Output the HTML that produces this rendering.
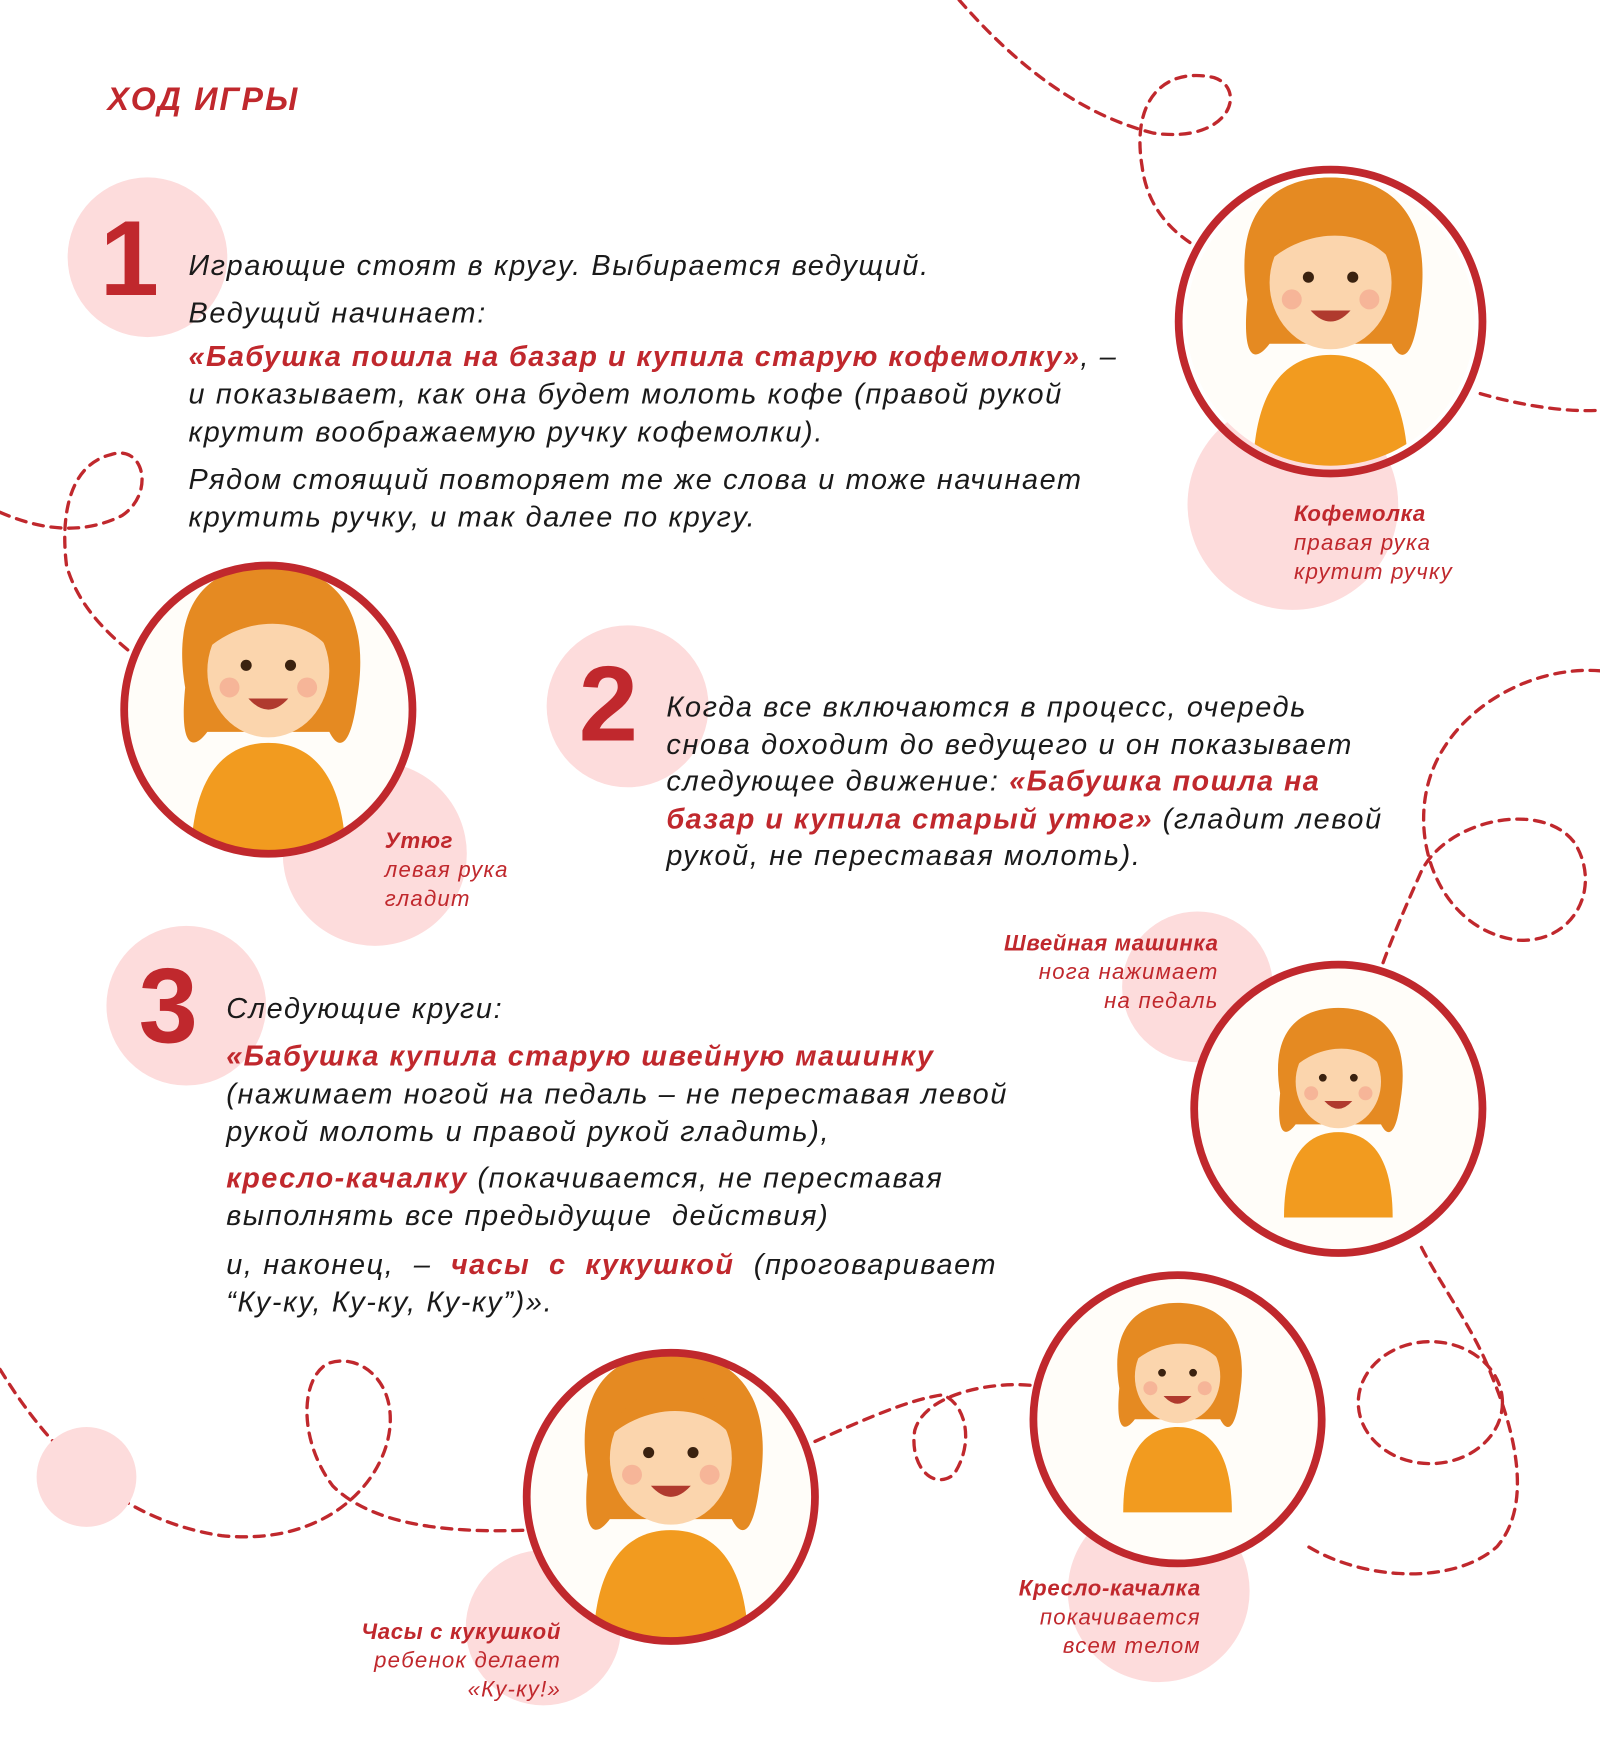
<!DOCTYPE html>
<html><head><meta charset="utf-8"><style>
html,body{margin:0;padding:0;background:#fff;}
body{width:1600px;height:1739px;overflow:hidden;position:relative;}
#w{position:absolute;left:0;top:0;width:1443px;height:1568px;transform:scale(1.10881);transform-origin:0 0;font-family:"Liberation Sans",sans-serif;}
.a{position:absolute;}
.pk{position:absolute;border-radius:50%;background:#fddcdc;}
.num{position:absolute;font-weight:bold;color:#c0282d;font-size:96px;line-height:1;}
.t{position:absolute;font-style:italic;font-size:26px;color:#1a1a1a;white-space:nowrap;letter-spacing:1.5px;}
.r{color:#c0282d;font-weight:bold;letter-spacing:1.3px;}
.cap{position:absolute;font-style:italic;font-size:20px;color:#c0282d;line-height:26px;white-space:nowrap;letter-spacing:1.1px;}
.cap b{font-weight:bold;letter-spacing:0.6px;}
.ri{text-align:right;}
</style></head><body><div id="w">
<svg class="a" style="left:0;top:0" width="1443" height="1568" viewBox="0 0 1443 1568">
<g fill="none" stroke="#c0282d" stroke-width="3" stroke-dasharray="9 7" stroke-linecap="round">
<path d="M865,0 C900,40 960,100 1040,120 C1110,130 1125,80 1095,70 C1050,60 1020,90 1030,150 C1035,190 1060,210 1075,220"/>
<path d="M1335,355 C1370,365 1410,372 1443,370"/>
<path d="M0,462 C30,475 70,485 110,465 C140,445 130,400 100,410 C60,420 55,470 60,510 C70,545 95,570 120,590"/>
<path d="M1443,605 C1380,600 1310,640 1290,700 C1270,760 1300,840 1370,848 C1420,850 1445,800 1420,760 C1390,720 1300,740 1280,790 C1262,830 1250,860 1245,875"/>
<path d="M1282,1125 C1300,1160 1330,1200 1345,1240 C1370,1300 1380,1360 1350,1395 C1310,1430 1230,1425 1180,1395"/>
<ellipse cx="1290" cy="1265" rx="65" ry="55"/>
<path d="M735,1300 C780,1280 820,1262 850,1258 C870,1265 880,1300 860,1330 C840,1345 820,1320 825,1290 C835,1255 900,1245 935,1250"/>
<path d="M0,1235 C40,1300 100,1370 200,1385 C300,1395 352,1330 352,1280 C352,1240 320,1220 295,1230 C270,1245 270,1300 300,1340 C340,1380 420,1382 475,1380"/>
</g>
</svg>
<div class="a" style="left:97px;top:74px;font-size:29px;font-weight:bold;font-style:italic;color:#c0282d;letter-spacing:2px;">ХОД ИГРЫ</div>

<div class="pk" style="left:61px;top:160px;width:144px;height:144px"></div>
<div class="pk" style="left:1071px;top:360px;width:190px;height:190px"></div>
<div class="pk" style="left:255px;top:687px;width:166px;height:166px"></div>
<div class="pk" style="left:493px;top:564px;width:146px;height:146px"></div>
<div class="pk" style="left:96px;top:835px;width:144px;height:144px"></div>
<div class="pk" style="left:1012px;top:822px;width:136px;height:136px"></div>
<div class="pk" style="left:963px;top:1353px;width:164px;height:164px"></div>
<div class="pk" style="left:420px;top:1398px;width:140px;height:140px"></div>
<div class="pk" style="left:33px;top:1287px;width:90px;height:90px"></div>

<div class="num" style="left:90px;top:186px">1</div>
<div class="t" style="left:170px;top:218px;line-height:43px">Играющие стоят в кругу. Выбирается ведущий.<br>Ведущий начинает:</div>
<div class="t" style="left:170px;top:304px;line-height:34px"><span class="r">«Бабушка пошла на базар и купила старую кофемолку»</span>, –<br>и показывает, как она будет молоть кофе (правой рукой<br>крутит воображаемую ручку кофемолки).</div>
<div class="t" style="left:170px;top:415px;line-height:34px">Рядом стоящий повторяет те же слова и тоже начинает<br>крутить ручку, и так далее по кругу.</div>

<div class="num" style="left:522px;top:588px">2</div>
<div class="t" style="left:601px;top:621px;line-height:33.5px">Когда все включаются в процесс, очередь<br>снова доходит до ведущего и он показывает<br>следующее движение: <span class="r">«Бабушка пошла на</span><br><span class="r">базар и купила старый утюг»</span> (гладит левой<br>рукой, не переставая молоть).</div>

<div class="num" style="left:125px;top:860px">3</div>
<div class="t" style="left:204px;top:892px;line-height:34px">Следующие круги:</div>
<div class="t" style="left:204px;top:935px;line-height:34px"><span class="r">«Бабушка купила старую швейную машинку</span><br>(нажимает ногой на педаль – не переставая левой<br>рукой молоть и правой рукой гладить),</div>
<div class="t" style="left:204px;top:1045px;line-height:34px"><span class="r">кресло-качалку</span> (покачивается, не переставая<br>выполнять все предыдущие &nbsp;действия)</div>
<div class="t" style="left:204px;top:1123px;line-height:34px">и, наконец, &nbsp;– &nbsp;<span class="r">часы &nbsp;с &nbsp;кукушкой</span> &nbsp;(проговаривает<br>“Ку-ку, Ку-ку, Ку-ку”)».</div>

<svg class="a" style="left:0;top:0" width="1443" height="1568" viewBox="0 0 1443 1568">
<defs>
<g id="kid" stroke="none">
<circle r="130" fill="#fffdf9"/>
<path d="M-70,140 C-70,60 -40,30 0,30 C40,30 70,60 70,140 Z" fill="#f29b1f"/>
<path d="M-75,-20 C-90,-110 -40,-130 0,-130 C50,-130 95,-100 80,-10 C75,30 65,40 55,20 L-55,20 C-70,40 -80,30 -75,-20Z" fill="#e58a22"/>
<ellipse cx="0" cy="-35" rx="55" ry="60" fill="#fbd5ad"/>
<path d="M-55,-55 C-40,-110 40,-110 55,-55 C30,-85 -20,-85 -55,-55Z" fill="#e58a22"/>
<circle cx="-20" cy="-40" r="5" fill="#3a2210"/><circle cx="20" cy="-40" r="5" fill="#3a2210"/>
<path d="M-18,-10 Q0,10 18,-10 Z" fill="#b03a2e"/>
<circle cx="-35" cy="-20" r="9" fill="#f4a08a" opacity="0.6"/><circle cx="35" cy="-20" r="9" fill="#f4a08a" opacity="0.6"/>
</g>
<clipPath id="cc"><circle r="130"/></clipPath>
</defs>
<g transform="translate(1200,290)"><g clip-path="url(#cc)"><use href="#kid"/></g><circle r="137" fill="none" stroke="#c0282d" stroke-width="7"/></g>
<g transform="translate(242,640)"><g clip-path="url(#cc)"><use href="#kid"/></g><circle r="130" fill="none" stroke="#c0282d" stroke-width="7"/></g>
<g transform="translate(1207,1000)"><g clip-path="url(#cc)"><circle r="130" fill="#fffdf9"/><use href="#kid" transform="scale(0.7)"/></g><circle r="130" fill="none" stroke="#c0282d" stroke-width="7"/></g>
<g transform="translate(1062,1280)"><g clip-path="url(#cc)"><circle r="130" fill="#fffdf9"/><use href="#kid" transform="scale(0.7) translate(0,-20)"/></g><circle r="130" fill="none" stroke="#c0282d" stroke-width="7"/></g>
<g transform="translate(605,1350)"><g clip-path="url(#cc)"><use href="#kid"/></g><circle r="130" fill="none" stroke="#c0282d" stroke-width="7"/></g>
</svg>

<div class="cap" style="left:1167px;top:451px"><b>Кофемолка</b><br>правая рука<br>крутит ручку</div>
<div class="cap" style="left:347px;top:746px"><b>Утюг</b><br>левая рука<br>гладит</div>
<div class="cap ri" style="right:344px;top:838px"><b>Швейная машинка</b><br>нога нажимает<br>на педаль</div>
<div class="cap ri" style="right:360px;top:1420px"><b>Кресло-качалка</b><br>покачивается<br>всем телом</div>
<div class="cap ri" style="right:937px;top:1459px"><b>Часы с кукушкой</b><br>ребенок делает<br>«Ку-ку!»</div>
</div></body></html>
